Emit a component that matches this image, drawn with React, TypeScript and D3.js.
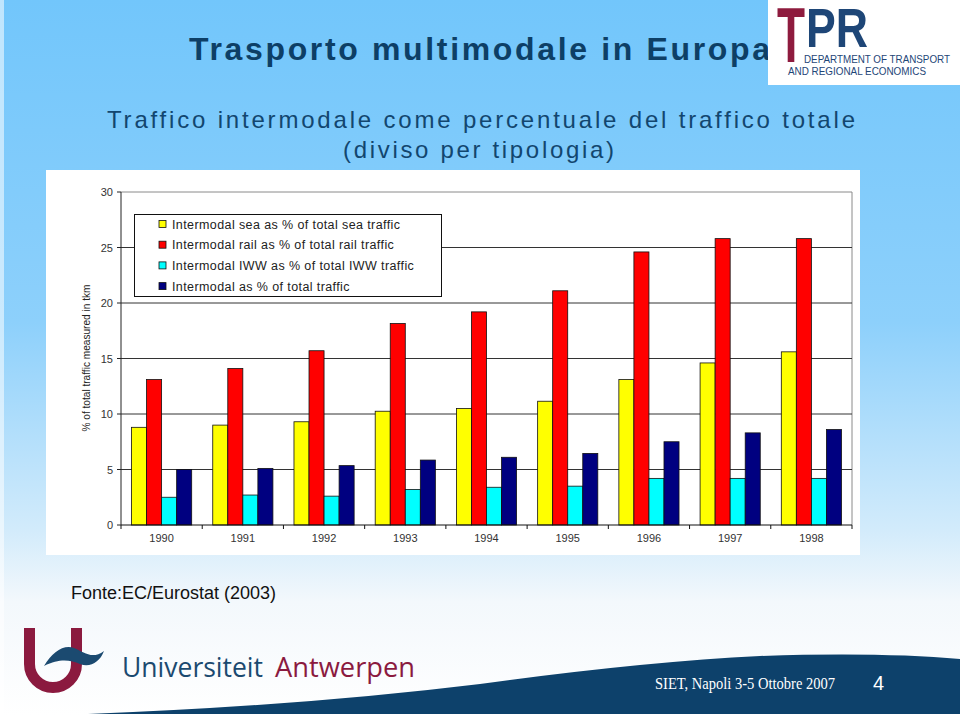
import React from 'react';
import * as d3 from 'd3';

const years = ['1990', '1991', '1992', '1993', '1994', '1995', '1996', '1997', '1998'];
const seaValues = [8.8, 9.0, 9.3, 10.25, 10.5, 11.15, 13.1, 14.6, 15.6];
const railValues = [13.1, 14.1, 15.7, 18.15, 19.2, 21.1, 24.6, 25.8, 25.8];
const iwwValues = [2.5, 2.7, 2.6, 3.2, 3.4, 3.5, 4.2, 4.2, 4.2];
const totalValues = [5.0, 5.1, 5.35, 5.85, 6.1, 6.45, 7.5, 8.3, 8.6];
const seriesNames = [
  'Intermodal sea as % of total sea traffic',
  'Intermodal rail as % of total rail traffic',
  'Intermodal IWW as % of total IWW traffic',
  'Intermodal as % of total traffic',
];
const seriesColors = ['#FFFF00', '#FF0000', '#00FFFF', '#000080'];
const yTicks = [0, 5, 10, 15, 20, 25, 30];

const SANS = '"Liberation Sans", Arial, sans-serif';

export default function App() {
  const seriesValues = [seaValues, railValues, iwwValues, totalValues];
  const x0 = d3.scaleBand<string>().domain(years).range([121, 852]).padding(0);
  const x1 = d3
    .scaleBand<number>()
    .domain([0, 1, 2, 3])
    .range([0, x0.bandwidth()])
    .paddingInner(0)
    .paddingOuter(0.7);
  const y = d3.scaleLinear().domain([0, 30]).range([525, 192]);
  const plotLeft = 121;
  const plotRight = 852;
  const bandEdges = years.map((yr) => x0(yr)!).concat([plotRight]);

  const bandPath = 'M88,714 Q300,706 480,684 Q640,662 760,656 Q880,652 960,659 L960,714 Z';
  const wavePath =
    'M44,666 C52,652 64,644 74,648 C84,652 92,660 104,651 C100,662 90,668 80,664 C70,660 60,658 44,666 Z';

  return (
    <svg
      width={960}
      height={716}
      style={{ position: 'absolute', left: 0, top: 0, display: 'block' }}
      fontFamily={SANS}
    >
      <defs>
        <linearGradient id="bg" x1="0" y1="0" x2="0" y2="1">
          <stop offset="0" stopColor="#72C6FB" />
          <stop offset="0.45" stopColor="#8DD0FB" />
          <stop offset="0.74" stopColor="#D2EBFB" />
          <stop offset="0.84" stopColor="#F3F8FC" />
          <stop offset="1" stopColor="#FFFFFF" />
        </linearGradient>
      </defs>
      <rect x={0} y={0} width={960} height={716} fill="url(#bg)" />
      <rect x={0} y={0} width={4} height={716} fill="#ffffff" opacity={0.55} />

      {/* Title */}
      <text x={189} y={60} fontSize={32} fontWeight="bold" fill="#0D3F66" textLength={581} lengthAdjust="spacing">
        Trasporto multimodale in Europa
      </text>
      <text x={107} y={128} fontSize={24} fill="#12466F" textLength={748} lengthAdjust="spacing">
        Traffico intermodale come percentuale del traffico totale
      </text>
      <text x={343} y={158} fontSize={24} fill="#12466F" textLength={271} lengthAdjust="spacing">
        (diviso per tipologia)
      </text>

      {/* TPR logo */}
      <rect x={768} y={0} width={192} height={85} fill="#ffffff" />
      <text x={777} y={62} fontSize={78} fontWeight="bold" fill="#8E1B3E" textLength={28} lengthAdjust="spacingAndGlyphs">
        T
      </text>
      <text x={806} y={47} fontSize={56} fontWeight="bold" fill="#1E4677" textLength={62} lengthAdjust="spacingAndGlyphs">
        PR
      </text>
      <text x={804} y={63} fontSize={11} fill="#1E4677" textLength={146} lengthAdjust="spacingAndGlyphs">
        DEPARTMENT  OF TRANSPORT
      </text>
      <text x={788} y={75} fontSize={11} fill="#1E4677" textLength={138} lengthAdjust="spacingAndGlyphs">
        AND REGIONAL ECONOMICS
      </text>

      {/* Chart panel */}
      <rect x={46} y={170} width={814} height={385} fill="#ffffff" />
      <line x1={plotLeft} x2={plotRight} y1={y(30)} y2={y(30)} stroke="#8a8a8a" strokeWidth={1} />
      <line x1={plotRight} x2={plotRight} y1={y(30)} y2={y(0)} stroke="#8a8a8a" strokeWidth={1} />
      {yTicks
        .filter((t) => t > 0 && t < 30)
        .map((t) => (
          <line key={t} x1={plotLeft} x2={plotRight} y1={y(t)} y2={y(t)} stroke="#333" strokeWidth={1} />
        ))}
      <line x1={plotLeft} x2={plotLeft} y1={y(30)} y2={y(0)} stroke="#222" strokeWidth={1} />
      {yTicks.map((t) => (
        <g key={t}>
          <line x1={plotLeft - 4} x2={plotLeft} y1={y(t)} y2={y(t)} stroke="#222" />
          <text x={113} y={y(t) + 4} fontSize={11} textAnchor="end" fill="#333">
            {t}
          </text>
        </g>
      ))}
      <text
        transform={`translate(90,358) rotate(-90)`}
        fontSize={10}
        fill="#222"
        textAnchor="middle"
        textLength={147}
        lengthAdjust="spacingAndGlyphs"
      >
        % of total traffic measured in tkm
      </text>

      {/* bars */}
      {years.map((yr, i) => (
        <g key={yr} transform={`translate(${x0(yr)},0)`}>
          {seriesValues.map((vals, s) => (
            <rect
              key={s}
              x={x1(s)!}
              y={y(vals[i])}
              width={x1.bandwidth()}
              height={y(0) - y(vals[i])}
              fill={seriesColors[s]}
              stroke="#111"
              strokeWidth={0.8}
            />
          ))}
        </g>
      ))}

      {/* x axis */}
      <line x1={plotLeft} x2={plotRight} y1={y(0)} y2={y(0)} stroke="#111" strokeWidth={1} />
      {bandEdges.map((e, i) => (
        <line key={i} x1={e} x2={e} y1={y(0)} y2={y(0) + 4} stroke="#111" />
      ))}
      {years.map((yr) => (
        <text key={yr} x={x0(yr)! + x0.bandwidth() / 2} y={542} fontSize={11} textAnchor="middle" fill="#333">
          {yr}
        </text>
      ))}

      {/* legend */}
      <rect x={134.5} y={214.5} width={307} height={82} fill="#ffffff" stroke="#111" strokeWidth={1} />
      {seriesNames.map((name, i) => {
        const cy = 224 + i * 20.7;
        return (
          <g key={name}>
            <rect x={159} y={cy - 3.5} width={7} height={7} fill={seriesColors[i]} stroke="#111" strokeWidth={0.8} />
            <text x={172} y={cy + 4.5} fontSize={12.5} fill="#222" letterSpacing={0.4}>
              {name}
            </text>
          </g>
        );
      })}

      {/* source */}
      <text x={71} y={599} fontSize={18} fill="#111">
        Fonte:EC/Eurostat (2003)
      </text>

      {/* Universiteit Antwerpen logo */}
      <path d="M29.5,628 V664 A23.5,23.5 0 0 0 76.5,664 V628" fill="none" stroke="#8B1A3F" strokeWidth={11} />
      <path d={wavePath} fill="#1B4A70" />
      <text x={122} y={677} fontSize={28} fill="#1B4A70" fontFamily='"Open Sans", sans-serif' textLength={141} lengthAdjust="spacingAndGlyphs">
        Universiteit
      </text>
      <text x={275} y={677} fontSize={28} fill="#8B1A3F" fontFamily='"Open Sans", sans-serif' textLength={140} lengthAdjust="spacingAndGlyphs">
        Antwerpen
      </text>

      {/* bottom band */}
      <path d={bandPath} fill="#0D416B" />
      <text x={655} y={689} fontSize={17} fill="#ffffff" fontFamily='"Liberation Serif", "Times New Roman", serif' textLength={180} lengthAdjust="spacingAndGlyphs">
        SIET, Napoli 3-5 Ottobre 2007
      </text>
      <text x={873} y={690} fontSize={20} fill="#ffffff">
        4
      </text>
    </svg>
  );
}
